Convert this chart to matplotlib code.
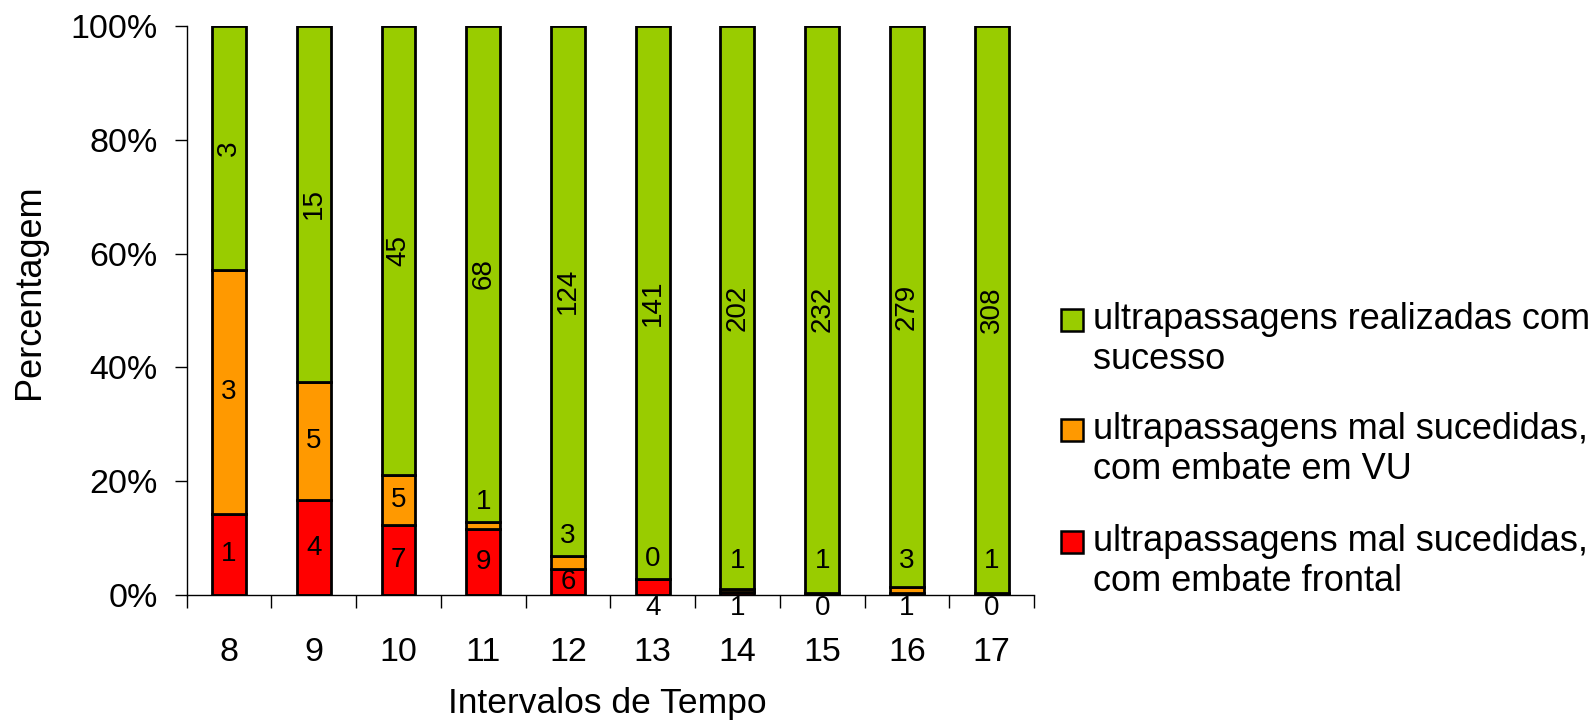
import numpy as np
import matplotlib
matplotlib.use("Agg")
import matplotlib.pyplot as plt
from matplotlib.patches import Rectangle

plt.rcParams['font.family'] = ['Liberation Sans', 'DejaVu Sans']

# --- data (counts per time interval) ---
intervals = ["8", "9", "10", "11", "12", "13", "14", "15", "16", "17"]
frontal = [1, 4, 7, 9, 6, 4, 1, 0, 1, 0]          # mal sucedidas, embate frontal
vu = [3, 5, 5, 1, 3, 0, 1, 1, 3, 1]               # mal sucedidas, embate em VU
sucesso = [3, 15, 45, 68, 124, 141, 202, 232, 279, 308]

labels = ["ultrapassagens realizadas com\nsucesso",
          "ultrapassagens mal sucedidas,\ncom embate em VU",
          "ultrapassagens mal sucedidas,\ncom embate frontal"]
colors = ["#99CC00", "#FF9900", "#FF0000"]

# --- convert to percentages ---
frontal = np.array(frontal, dtype=float)
vu = np.array(vu, dtype=float)
sucesso = np.array(sucesso, dtype=float)
total = frontal + vu + sucesso
p_fr = frontal / total * 100
p_vu = vu / total * 100
p_su = sucesso / total * 100

x = np.arange(len(intervals))

fig = plt.figure(figsize=(15.9, 7.25), dpi=100)
ax = fig.add_axes([186.7 / 1590, 1 - 595 / 725, (1034 - 186.7) / 1590, (595 - 26) / 725])

bw = 0.4
ax.bar(x, p_fr, bw, color=colors[2], edgecolor="black", linewidth=2)
ax.bar(x, p_vu, bw, bottom=p_fr, color=colors[1], edgecolor="black", linewidth=2)
ax.bar(x, p_su, bw, bottom=p_fr + p_vu, color=colors[0], edgecolor="black", linewidth=2)

# --- value labels ---
fs = 20
for i in range(len(x)):
    # red segment: centre, or below the axis if too thin
    if p_fr[i] >= 3.5:
        ax.text(x[i], p_fr[i] / 2, "%d" % frontal[i], ha="center", va="center", fontsize=fs)
    else:
        ax.text(x[i], -2.3, "%d" % frontal[i], ha="center", va="center", fontsize=fs, clip_on=False)
    # orange segment: centre, or just above the bar part if thin
    top_vu = p_fr[i] + p_vu[i]
    if p_vu[i] >= 4:
        y_vu = p_fr[i] + p_vu[i] / 2
    else:
        y_vu = max(top_vu + 3.6, 6.0)
    ax.text(x[i], y_vu, "%d" % vu[i], ha="center", va="center", fontsize=fs)
    # green segment: centre, rotated
    ax.text(x[i], top_vu + p_su[i] / 2, "%d" % sucesso[i], ha="center", va="center",
            fontsize=fs, rotation=90)

# --- axes styling ---
ax.set_xlim(-0.5, len(x) - 0.5)
ax.set_ylim(0, 100)
ax.set_yticks([0, 20, 40, 60, 80, 100])
ax.set_yticklabels(["0%", "20%", "40%", "60%", "80%", "100%"], fontsize=24.5)
ax.set_xticks(x)
ax.set_xticklabels(intervals, fontsize=24.5)
ax.set_xticks(np.arange(len(x) + 1) - 0.5, minor=True)
ax.tick_params(axis="x", which="major", length=0, pad=30)
ax.tick_params(axis="x", which="minor", length=9, width=1, direction="out")
ax.tick_params(axis="y", length=9, width=1, direction="out", pad=12)
ax.spines["top"].set_visible(False)
ax.spines["right"].set_visible(False)
for s in ["left", "bottom"]:
    ax.spines[s].set_linewidth(1)

fig.text(30 / 1590, 1 - 292 / 725, "Percentagem", rotation=90, ha="center", va="center", fontsize=26)
fig.text(607 / 1590, 1 - 703 / 725, "Intervalos de Tempo", ha="center", va="center", fontsize=25.5)

# --- legend (drawn by hand, square aligned with first line) ---
leg_y = [320, 430, 542]
for k in range(3):
    yc = 1 - leg_y[k] / 725
    fig.patches.append(Rectangle((1061 / 1590, yc - 11 / 725), 22 / 1590, 22 / 725,
                                 transform=fig.transFigure, facecolor=colors[k],
                                 edgecolor="black", linewidth=1.8))
    fig.text(1093 / 1590, yc + 18 / 725, labels[k], ha="left", va="top",
             fontsize=26, linespacing=1.2)

plt.savefig("out.png", dpi=100)
